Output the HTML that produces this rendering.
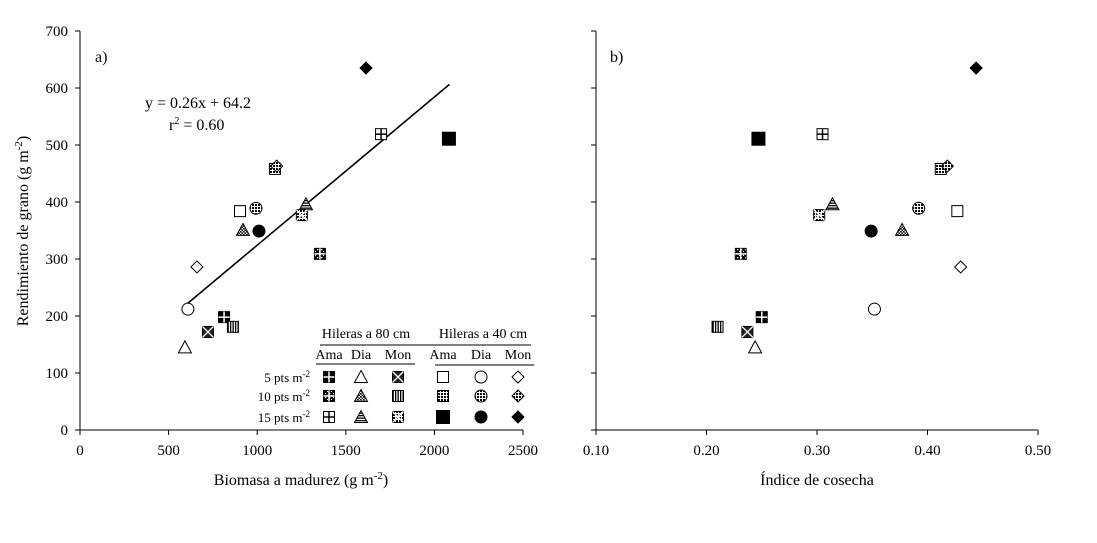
<!DOCTYPE html>
<html><head><meta charset="utf-8"><style>
body{margin:0;background:#fff;}
svg{display:block;font-family:"Liberation Serif",serif;}
</style></head><body>
<svg id="c" width="1097" height="543" viewBox="0 0 1097 543">
<defs>
<pattern id="dots" width="3" height="3" patternUnits="userSpaceOnUse"><rect width="3" height="3" fill="#fff"/><rect width="2" height="2" fill="#000"/></pattern>
<pattern id="chk" width="4" height="4" patternUnits="userSpaceOnUse"><rect width="4" height="4" fill="#000"/><rect x="1" y="1" width="1.3" height="1.3" fill="#fff"/><rect x="3" y="3" width="1" height="1" fill="#fff"/></pattern>
<pattern id="vl" width="2.5" height="3" patternUnits="userSpaceOnUse"><rect width="2.5" height="3" fill="#fff"/><rect width="1.3" height="3" fill="#000"/></pattern>
<pattern id="hl" width="3" height="2.5" patternUnits="userSpaceOnUse"><rect width="3" height="2.5" fill="#fff"/><rect width="3" height="1.3" fill="#000"/></pattern>
<pattern id="tchk" width="3" height="3" patternUnits="userSpaceOnUse"><rect width="3" height="3" fill="#fff"/><rect width="1.6" height="1.6" fill="#000"/><rect x="1.5" y="1.5" width="1.5" height="1.5" fill="#000"/></pattern>
</defs>
<g id="axes"></g>
<g id="marks"></g>
<g id="legend"></g>
</svg>
<script>
// data
const symNames = ["ama80_5","dia80_5","mon80_5","ama40_5","dia40_5","mon40_5","ama80_10","dia80_10","mon80_10","ama40_10","dia40_10","mon40_10","ama80_15","dia80_15","mon80_15","ama40_15","dia40_15","mon40_15"];
const biomasa = [813,592,722,903,609,660,1354,920,863,1100,993,1110,1699,1275,1252,2082,1010,1614];
const indice  = [0.250,0.244,0.237,0.427,0.352,0.430,0.231,0.377,0.210,0.412,0.392,0.418,0.305,0.314,0.302,0.247,0.349,0.444];
const rendimiento = [198,145,172,384,212,286,309,351,181,458,389,463,519,396,377,511,349,635];
const yTicks = [0,100,200,300,400,500,600,700];
const xTicksA = [0,500,1000,1500,2000,2500];
const xTicksB = ["0.10","0.20","0.30","0.40","0.50"];
const regSlope = 0.26, regIntercept = 64.2, regX = [605,2085];

const NS="http://www.w3.org/2000/svg";
const axesG=document.getElementById('axes'), marksG=document.getElementById('marks'), legG=document.getElementById('legend');
function mk(tag,attrs,parent,text){const e=document.createElementNS(NS,tag);for(const k in attrs)e.setAttribute(k,attrs[k]);if(text!==undefined)e.textContent=text;parent.appendChild(e);return e;}
const yS=v=>430-v*(399/700);
const xA=v=>80+v*(443/2500);
const xB=v=>596+(v-0.10)*(442/0.4);

function axisFrame(x0,x1,labels,scale,showY){
  mk('line',{x1:x0,y1:31,x2:x0,y2:430,stroke:'#000','stroke-width':1},axesG);
  mk('line',{x1:x0,y1:430,x2:x1,y2:430,stroke:'#000','stroke-width':1},axesG);
  yTicks.forEach(t=>{
    mk('line',{x1:x0-5,y1:yS(t),x2:x0,y2:yS(t),stroke:'#000'},axesG);
    if(showY){const tx=mk('text',{x:x0-12,y:yS(t)+5,'text-anchor':'end','font-size':15},axesG,String(t));
    }
  });
  labels.forEach(l=>{const px=scale(parseFloat(l));
    mk('line',{x1:px,y1:430,x2:px,y2:435},axesG).setAttribute('stroke','#000');
    const tx=mk('text',{x:px,y:455,'text-anchor':'middle','font-size':15},axesG,String(l));
    
  });
}
axisFrame(80,523,xTicksA,xA,true);
axisFrame(596,1038,xTicksB,xB,false);
let t;
t=mk('text',{x:301,y:485,'text-anchor':'middle','font-size':16},axesG);t.innerHTML='Biomasa a madurez (g m<tspan dy="-6" font-size="11">-2</tspan><tspan dy="6">)</tspan>';

t=mk('text',{x:817,y:485,'text-anchor':'middle','font-size':16},axesG,'Índice de cosecha');

t=mk('text',{transform:'translate(28,231) rotate(-90)','text-anchor':'middle','font-size':16},axesG);t.innerHTML='Rendimiento de grano (g m<tspan dy="-6" font-size="11">-2</tspan><tspan dy="6">)</tspan>';

t=mk('text',{x:95,y:62,'font-size':16},axesG,'a)');
t=mk('text',{x:610,y:62,'font-size':16},axesG,'b)');
t=mk('text',{x:145,y:108,'font-size':16},axesG,'y = 0.26x + 64.2');
t=mk('text',{x:169,y:130,'font-size':16},axesG);t.innerHTML='r<tspan dy="-6" font-size="10">2</tspan><tspan dy="6"> = 0.60</tspan>';

const rl=mk('line',{x1:xA(regX[0]),y1:yS(regSlope*regX[0]+regIntercept),x2:xA(regX[1]),y2:yS(regSlope*regX[1]+regIntercept),stroke:'#000','stroke-width':1.6},axesG);


function sym(name,cx,cy,parent){
  const g=mk('g',{},parent);const s=5.5;
  const sq=(fill,sz)=>mk('rect',{x:cx-(sz||s),y:cy-(sz||s),width:2*(sz||s),height:2*(sz||s),fill:fill,stroke:'#000','stroke-width':1},g);
  const tri=(fill)=>mk('polygon',{points:`${cx},${cy-6.5} ${cx+6.5},${cy+5.5} ${cx-6.5},${cy+5.5}`,fill:fill,stroke:'#000','stroke-width':1},g);
  const circ=(fill)=>mk('circle',{cx:cx,cy:cy,r:6,fill:fill,stroke:'#000','stroke-width':1},g);
  const dia=(fill)=>mk('polygon',{points:`${cx},${cy-6} ${cx+6},${cy} ${cx},${cy+6} ${cx-6},${cy}`,fill:fill,stroke:'#000','stroke-width':1},g);
  const cross=(col)=>{mk('line',{x1:cx,y1:cy-s,x2:cx,y2:cy+s,stroke:col,'stroke-width':1.5},g);mk('line',{x1:cx-s,y1:cy,x2:cx+s,y2:cy,stroke:col,'stroke-width':1.5},g);};
  const xx=(col)=>{mk('line',{x1:cx-s,y1:cy-s,x2:cx+s,y2:cy+s,stroke:col,'stroke-width':1.3},g);mk('line',{x1:cx-s,y1:cy+s,x2:cx+s,y2:cy-s,stroke:col,'stroke-width':1.3},g);};
  switch(name){
    case 'ama80_5':sq('#000');cross('#fff');break;
    case 'dia80_5':tri('#fff');break;
    case 'mon80_5':sq('#222');xx('#fff');break;
    case 'ama40_5':sq('#fff');break;
    case 'dia40_5':circ('#fff');break;
    case 'mon40_5':dia('#fff');break;
    case 'ama80_10':sq('url(#chk)');cross('#fff');break;
    case 'dia80_10':tri('url(#tchk)');break;
    case 'mon80_10':sq('url(#vl)');break;
    case 'ama40_10':sq('url(#dots)');break;
    case 'dia40_10':circ('url(#dots)');break;
    case 'mon40_10':dia('url(#dots)');break;
    case 'ama80_15':sq('#fff');cross('#000');break;
    case 'dia80_15':tri('url(#hl)');break;
    case 'mon80_15':sq('url(#dots)');xx('#fff');break;
    case 'ama40_15':sq('#000',6.5);break;
    case 'dia40_15':circ('#000');break;
    case 'mon40_15':dia('#000');break;
  }
  return g;
}
symNames.forEach((n,i)=>{
  const a=sym(n,xA(biomasa[i]),yS(rendimiento[i]),marksG);
  
  
  const b=sym(n,xB(indice[i]),yS(rendimiento[i]),marksG);
  
  
});

// legend
const colX=[329,361,398,443,481,518], rowY=[377,396,417];
const rowLbl=['5','10','15'];
[['Hileras a 80 cm',366],['Hileras a 40 cm',483]].forEach(h=>{const e=mk('text',{x:h[1],y:338,'text-anchor':'middle','font-size':14},legG,h[0]);});
mk('line',{x1:320,y1:345,x2:531,y2:345,stroke:'#000'},legG);
['Ama','Dia','Mon','Ama','Dia','Mon'].forEach((h,i)=>{const e=mk('text',{x:colX[i],y:359,'text-anchor':'middle','font-size':14},legG,h);});
mk('line',{x1:316,y1:364,x2:415,y2:364,stroke:'#555','stroke-width':1.5},legG);
mk('line',{x1:435,y1:365,x2:534,y2:365,stroke:'#000'},legG);
rowLbl.forEach((r,j)=>{const e=mk('text',{x:310,y:rowY[j]+5,'text-anchor':'end','font-size':13},legG);e.innerHTML=r+' pts m<tspan dy="-5" font-size="9">-2</tspan>';
  });
symNames.forEach((n,i)=>{const row=Math.floor(i/6),col=i%6;const g=sym(n,colX[col],rowY[row],legG);
  });
</script>
</body></html>
